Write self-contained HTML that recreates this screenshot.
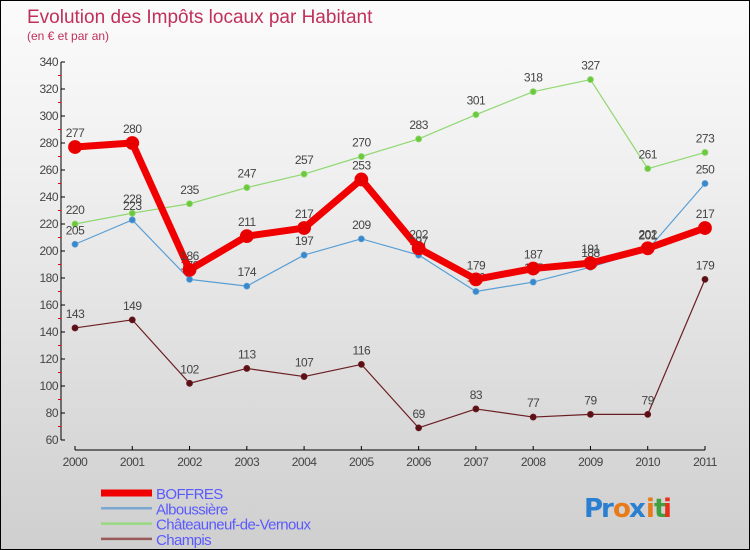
<!DOCTYPE html>
<html><head><meta charset="utf-8"><style>
body{margin:0}
#c{width:748px;height:548px;border:1px solid #000;background:linear-gradient(#fbfbfb,#f0f0f0 30%,#d8d8d8 80%,#cfcfcf);position:relative;font-family:"Liberation Sans",sans-serif;overflow:hidden}
</style></head><body>
<div id="c">
<svg id="s" width="748" height="548"></svg>
</div>
<script>
const years=['2000','2001','2002','2003','2004','2005','2006','2007','2008','2009','2010','2011'];
const boffres=[277,280,186,211,217,253,202,179,187,191,202,217];
const albou=[205,223,179,174,197,209,197,170,177,188,201,250];
const chateau=[220,228,235,247,257,270,283,301,318,327,261,273];
const champis=[143,149,102,113,107,116,69,83,77,79,79,179];
const yTicks=[60,80,100,120,140,160,180,200,220,240,260,280,300,320,340];
const NS='http://www.w3.org/2000/svg',s=document.getElementById('s');
const X=i=>74+i*(630/11), Y=v=>439-(v-60)*(378/280);
function el(t,a,txt){const e=document.createElementNS(NS,t);for(const k in a)e.setAttribute(k,a[k]);if(txt!==undefined)e.textContent=txt;s.appendChild(e);return e;}
let e;
e=el('text',{x:26,y:22,'font-size':19,fill:'#c0305a'},'Evolution des Impôts locaux par Habitant');

e=el('text',{x:26,y:39,'font-size':12,fill:'#c0305a'},'(en € et par an)');

el('line',{x1:60,y1:Y(340),x2:60,y2:Y(60),stroke:'#000'});
el('line',{x1:X(0),y1:449,x2:X(11),y2:449,stroke:'#000'});
yTicks.forEach(v=>{el('line',{x1:60,x2:64,y1:Y(v),y2:Y(v),stroke:'#000'});
 if(v<340)el('line',{x1:57,x2:60,y1:Y(v+10),y2:Y(v+10),stroke:'#e00'});
 e=el('text',{x:57,y:Y(v)+4,'font-size':12,fill:'#444','text-anchor':'end','letter-spacing':'-0.5'},v);
 });
years.forEach((y,i)=>{el('line',{x1:X(i),x2:X(i),y1:445,y2:449,stroke:'#000'});
 e=el('text',{x:X(i),y:465,'font-size':12,fill:'#444','text-anchor':'middle','letter-spacing':'-0.5'},y);
 });
function series(d,col,w,r,dot,name){
 e=el('polyline',{points:d.map((v,i)=>X(i)+','+Y(v)).join(' '),fill:'none',stroke:col,'stroke-width':w,'stroke-linejoin':'round'});
 
 d.forEach((v,i)=>{e=el('circle',{cx:X(i),cy:Y(v),r:r,fill:dot,stroke:col,'stroke-width':0.8});
  
  e=el('text',{x:X(i),y:Y(v)-10,'font-size':12,fill:'#444','text-anchor':'middle','letter-spacing':'-0.5'},v);
  });
}
series(champis,'#6b1e22',1.2,3,'#5a1015','champis');
series(chateau,'#8fd870',1.2,3,'#6cc83c','chateauneuf');
series(albou,'#5a9fd4',1.2,3,'#3a88cc','alboussiere');
series(boffres,'#f00000',7,6.5,'#e80000','boffres');
const leg=[['BOFFRES','#f00000',7],['Alboussière','#7aa8d0',2.5],['Châteauneuf-de-Vernoux','#98d880',2.5],['Champis','#9a5a5a',2.5]];
leg.forEach((l,i)=>{const y=492+i*15.3;
 e=el('line',{x1:100,x2:151,y1:y,y2:y,stroke:l[1],'stroke-width':l[2]});
 
 e=el('text',{x:155,y:y+6,'font-size':15,fill:'#5a5aff','letter-spacing':'-0.6'},l[0]);
 });
const logo=[['P','#2a7fd0'],['r','#2a7fd0'],['o','#e87a1a'],['x','#2a7fd0'],['i','#e87a1a'],['t','#40a040'],['i','#e8301a']];
let lx=583;const lw=[17,12,16,17,8,9,8];
logo.forEach((c,i)=>{e=el('text',{x:lx,y:516,'font-size':26,'font-weight':'bold',fill:c[1],'font-family':'DejaVu Sans'},c[0]);
 lx+=lw[i];});
</script>
</body></html>
